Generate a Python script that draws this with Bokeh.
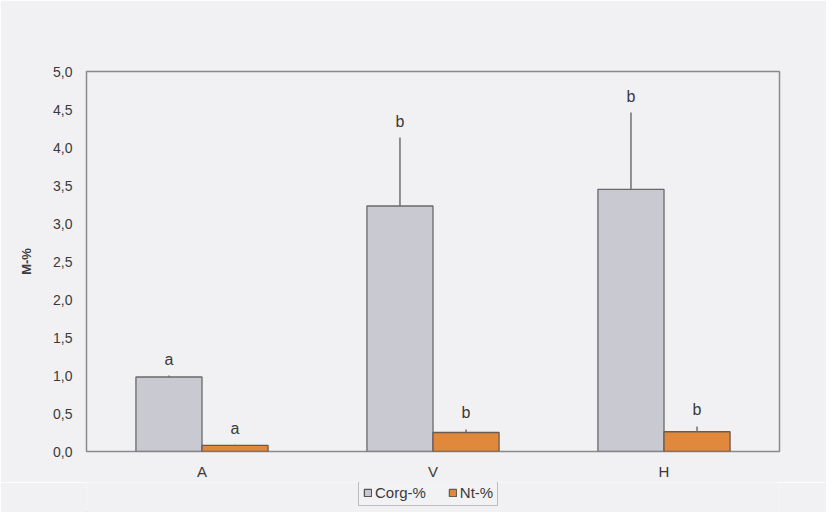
from bokeh.plotting import figure
from bokeh.layouts import column
from bokeh.models import ColumnDataSource, FixedTicker, Legend, LegendItem, Range1d
from bokeh.transform import dodge
from bokeh.core.properties import value
from bokeh.embed import file_html
from bokeh.resources import INLINE

# ---- data ----
sites = ["A", "V", "H"]
corg = [0.98, 3.23, 3.45]
corg_err = [0.02, 0.90, 1.01]
corg_letters = ["a", "b", "b"]
nt = [0.08, 0.25, 0.26]
nt_err = [0.01, 0.04, 0.07]
nt_letters = ["a", "b", "b"]
y_ticks = [0.0, 0.5, 1.0, 1.5, 2.0, 2.5, 3.0, 3.5, 4.0, 4.5, 5.0]
y_tick_labels = ["0,0", "0,5", "1,0", "1,5", "2,0", "2,5", "3,0", "3,5", "4,0", "4,5", "5,0"]
series_names = ["Corg-%", "Nt-%"]

FONT = "Liberation Sans"
TXT = "#3a3a3a"
BG = "#f1f1f3"
C_CORG = "#c9c9d1"
C_NT = "#e0893c"

src = ColumnDataSource(dict(
    site=sites,
    corg=corg, corg_hi=[v + e for v, e in zip(corg, corg_err)], corg_lab=corg_letters,
    nt=nt, nt_hi=[v + e for v, e in zip(nt, nt_err)], nt_lab=nt_letters,
))

p = figure(x_range=sites, y_range=Range1d(0, 5), width=826, height=482,
           output_backend="svg", toolbar_location=None)
p.background_fill_color = BG
p.border_fill_color = BG
p.outline_line_color = "#8a8a8a"
p.outline_line_width = 1.5
p.grid.visible = False
p.min_border_left = 86
p.min_border_right = 47
p.min_border_top = 71
p.min_border_bottom = 30
p.x_range.range_padding = 0

W = 0.286
xc = dodge("site", -W / 2, range=p.x_range)
xn = dodge("site", W / 2, range=p.x_range)

p.vbar(x=xc, top="corg", width=W, source=src, fill_color=C_CORG,
       line_color="#6a6a6a", line_width=1.3)
p.vbar(x=xn, top="nt", width=W, source=src, fill_color=C_NT,
       line_color="#6a5a50", line_width=1.3)

p.segment(x0=xc, x1=xc, y0="corg", y1="corg_hi", source=src, line_color="#707070", line_width=1.5)
p.segment(x0=xn, x1=xn, y0="nt", y1="nt_hi", source=src, line_color="#707070", line_width=1.5)

p.text(x=xc, y="corg_hi", text="corg_lab", source=src, text_font=value(FONT),
       text_font_size="16px", text_color=TXT, text_align="center",
       text_baseline="bottom", y_offset=-8)
p.text(x=xn, y="nt_hi", text="nt_lab", source=src, text_font=value(FONT),
       text_font_size="16px", text_color=TXT, text_align="center",
       text_baseline="bottom", y_offset=-8)

# axes
p.yaxis.ticker = FixedTicker(ticks=y_ticks)
p.yaxis.major_label_overrides = {t: l for t, l in zip(y_ticks, y_tick_labels)}
p.yaxis.axis_label = "M-%"
for ax in (p.xaxis[0], p.yaxis[0]):
    ax.axis_line_color = None
    ax.major_tick_line_color = None
    ax.minor_tick_line_color = None
    ax.major_tick_out = 0
    ax.major_tick_in = 0
    ax.minor_tick_out = 0
    ax.major_label_text_font = FONT
    ax.major_label_text_color = TXT
    ax.major_label_text_font_size = "14px"
    ax.axis_label_text_font = FONT
    ax.axis_label_text_color = TXT
p.yaxis.major_label_standoff = 14
p.yaxis.axis_label_text_font_size = "13px"
p.yaxis.axis_label_text_font_style = "bold"
p.yaxis.axis_label_standoff = 16
p.xaxis.major_label_standoff = 11
p.xaxis.major_label_text_font_size = "15px"

# legend strip below the chart
q = figure(width=826, height=30, x_range=Range1d(0, 1), y_range=Range1d(0, 1),
           output_backend="svg", toolbar_location=None,
           x_axis_type=None, y_axis_type=None)
q.min_border = 0
q.outline_line_color = None
q.background_fill_color = BG
q.border_fill_color = BG
q.grid.visible = False
d1 = q.vbar(x=[-5], top=[-5], width=0.1, fill_color=C_CORG, line_color="#555555", line_width=1.3)
d2 = q.vbar(x=[-5], top=[-5], width=0.1, fill_color=C_NT, line_color="#6a5a50", line_width=1.3)

legend = Legend(items=[LegendItem(label=series_names[0], renderers=[d1]),
                       LegendItem(label=series_names[1], renderers=[d2])],
                orientation="horizontal", location=(272, 6))
legend.label_text_font = FONT
legend.label_text_font_size = "15px"
legend.label_text_color = TXT
legend.glyph_width = 9
legend.glyph_height = 9
legend.label_standoff = 3
legend.spacing = 22
legend.padding = 4
legend.margin = 0
legend.border_line_color = "#8a8a8a"
legend.border_line_width = 1.3
legend.background_fill_color = BG
legend.label_height = 14
q.add_layout(legend, "center")

layout = column(p, q, spacing=0)
open("out.html", "w").write(file_html(layout, INLINE))
